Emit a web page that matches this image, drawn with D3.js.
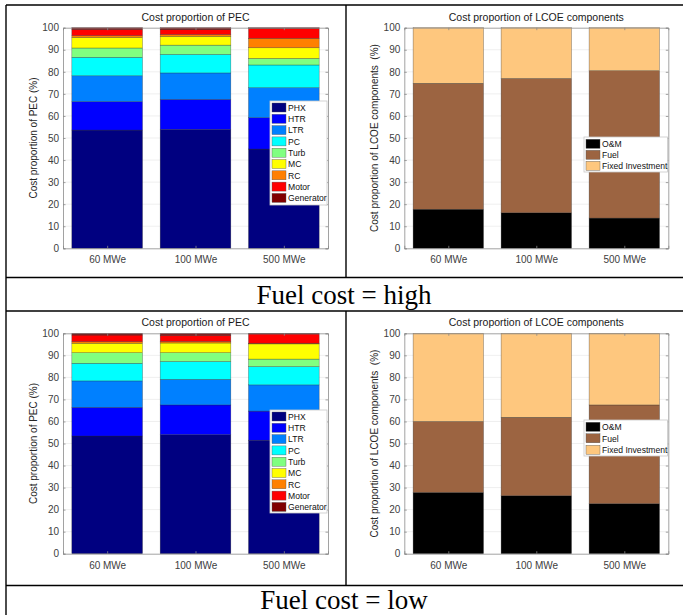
<!DOCTYPE html>
<html>
<head>
<meta charset="utf-8">
<script src="https://cdn.jsdelivr.net/npm/d3@7"></script>
<style>
  body { margin: 0; background: #fff; }
  svg { display: block; }
  .tick text { font-family: "Liberation Sans", Arial, sans-serif; }
</style>
</head>
<body>
<div id="chart"></div>
<script>
// Bar categories (plant size)
const categories = ['60 MWe', '100 MWe', '500 MWe'];

// PEC component names + colours (MATLAB jet-ish)
const pecParts = ['PHX', 'HTR', 'LTR', 'PC', 'Turb', 'MC', 'RC', 'Motor', 'Generator'];
const pecColors = ['#000080', '#0000ff', '#0080ff', '#00ffff', '#80ff80', '#ffff00', '#ff8000', '#ff0000', '#800000'];

// PEC shares (%), one row per category, columns follow pecParts
const pecHigh = [
  [53.6, 12.9, 11.7, 8.4, 4.2, 4.8, 0.8, 2.8, 0.8],
  [53.9, 13.6, 12.0, 8.4, 4.2, 4.0, 0.8, 2.2, 0.9],
  [45.0, 14.2, 13.6, 10.3, 3.0, 4.8, 4.3, 4.5, 0.3]
];
const pecLow = [
  [53.4, 13.0, 12.0, 8.0, 4.8, 4.3, 0.7, 3.0, 0.8],
  [54.0, 13.5, 11.6, 8.1, 4.0, 4.4, 0.7, 2.8, 0.9],
  [51.5, 13.2, 11.9, 8.3, 3.4, 6.9, 0.3, 4.2, 0.3]
];

// LCOE components
const lcoeParts = ['O&M', 'Fuel', 'Fixed Investment'];
const lcoeColors = ['#000000', '#9c6441', '#fec77e'];
const lcoeHigh = [
  [17.7, 57.1, 25.2],
  [16.1, 60.9, 23.0],
  [13.7, 66.8, 19.5]
];
const lcoeLow = [
  [27.8, 32.2, 40.0],
  [26.3, 35.6, 38.1],
  [22.7, 44.8, 32.5]
];

const yTicks = d3.range(0, 101, 10);

const W = 683, H = 615;
const svg = d3.select('#chart').append('svg')
  .attr('width', W)
  .attr('height', H);

/*
  Draw one stacked-bar panel. box = plot area in page coords,
  leg = legend box.
*/
function panel(opt) {
  const {box, title, ylabel, parts, colors, rows, leg} = opt;
  const g = svg.append('g');

  const x = d3.scaleLinear().domain([0.5, 3.5]).range([box.x0, box.x1]);
  const y = d3.scaleLinear().domain([0, 100]).range([box.y0, box.y1]);
  const bw = (x(1.4) - x(0.6));

  // grid
  g.append('g').selectAll('line')
    .data(yTicks.slice(1, -1))
    .enter().append('line')
    .attr('x1', box.x0).attr('x2', box.x1)
    .attr('y1', d => y(d)).attr('y2', d => y(d))
    .attr('stroke', '#ebebeb')
    .attr('stroke-width', 0.8);

  // stack the rows
  const table = rows.map((r, i) => {
    const o = {cat: i + 1};
    parts.forEach((p, j) => o[p] = r[j]);
    return o;
  });
  const series = d3.stack().keys(parts)(table);

  g.append('g').selectAll('g')
    .data(series)
    .enter().append('g')
    .attr('fill', (d, i) => colors[i])
    .selectAll('rect')
    .data(d => d)
    .enter().append('rect')
    .attr('x', d => x(d.data.cat) - bw / 2)
    .attr('width', bw)
    .attr('y', d => y(d[1]))
    .attr('height', d => y(d[0]) - y(d[1]))
    .attr('stroke', '#2a2a2a')
    .attr('stroke-opacity', 0.6)
    .attr('stroke-width', 0.5);

  // axes (inward ticks, MATLAB style)
  const axCol = '#8a8a8a';
  const yAx = g.append('g')
    .attr('transform', `translate(${box.x0},0)`)
    .call(d3.axisLeft(y).tickValues(yTicks).tickSize(-2.5).tickPadding(4));
  const yAxR = g.append('g')
    .attr('transform', `translate(${box.x1},0)`)
    .call(d3.axisRight(y).tickValues(yTicks).tickSize(-2.5).tickFormat(''));
  const xAx = g.append('g')
    .attr('transform', `translate(0,${box.y0})`)
    .call(d3.axisBottom(x).tickValues([1, 2, 3]).tickSize(-2.5).tickPadding(8)
      .tickFormat(d => categories[d - 1]));
  const xAxT = g.append('g')
    .attr('transform', `translate(0,${box.y1})`)
    .call(d3.axisTop(x).tickValues([1, 2, 3]).tickSize(-2.5).tickFormat(''));
  [yAx, yAxR, xAx, xAxT].forEach(a => {
    a.select('.domain').attr('stroke', axCol).attr('stroke-width', 0.8);
    a.selectAll('.tick line').attr('stroke', axCol).attr('stroke-width', 0.8);
    a.selectAll('.tick text').attr('fill', '#404040').attr('font-size', 10);
  });

  // title
  g.append('text')
    .attr('x', (box.x0 + box.x1) / 2)
    .attr('y', box.y1 - 7)
    .attr('text-anchor', 'middle')
    .attr('font-family', '"Liberation Sans", Arial, sans-serif')
    .attr('font-size', 10.5)
    .attr('fill', '#1a1a1a')
    .text(title);

  // y label
  g.append('text')
    .attr('transform', `translate(${box.x0 - 26},${(box.y0 + box.y1) / 2}) rotate(-90)`)
    .attr('text-anchor', 'middle')
    .attr('font-family', '"Liberation Sans", Arial, sans-serif')
    .attr('font-size', 10)
    .attr('fill', '#262626')
    .attr('xml:space', 'preserve')
    .style('white-space', 'pre')
    .text(ylabel);

  // legend
  const lg = g.append('g');
  lg.append('rect')
    .attr('x', leg.x).attr('y', leg.y)
    .attr('width', leg.w).attr('height', leg.h)
    .attr('fill', '#fff')
    .attr('stroke', '#c8c8c8')
    .attr('stroke-width', 0.8);
  const item = lg.selectAll('.item')
    .data(parts)
    .enter().append('g')
    .attr('transform', (d, i) => `translate(${leg.x + 2},${leg.y + leg.top + i * leg.step})`);
  item.append('rect')
    .attr('x', 0).attr('y', -4.5)
    .attr('width', 14).attr('height', 9)
    .attr('fill', (d, i) => colors[i])
    .attr('stroke', '#555')
    .attr('stroke-width', 0.4);
  item.append('text')
    .attr('x', 16).attr('y', 3.3)
    .attr('font-family', '"Liberation Sans", Arial, sans-serif')
    .attr('font-size', 8.6)
    .attr('fill', '#111')
    .text(d => d);
}

const leftX = {x0: 63, x1: 328};
const rightX = {x0: 404.3, x1: 668.3};
const topY = {y0: 248.3, y1: 27.7};
const botY = {y0: 553.7, y1: 333.3};
const pecLabel = 'Cost proportion of PEC (%)';
const lcoeLabel = 'Cost proportion of LCOE components  (%)';

panel({box: {...leftX, ...topY}, title: 'Cost proportion of PEC', ylabel: pecLabel,
  parts: pecParts, colors: pecColors, rows: pecHigh,
  leg: {x: 270, y: 101, w: 57, h: 104, top: 6.5, step: 11.3}});
panel({box: {...rightX, ...topY}, title: 'Cost proportion of LCOE components', ylabel: lcoeLabel,
  parts: lcoeParts, colors: lcoeColors, rows: lcoeHigh,
  leg: {x: 584, y: 137, w: 83.5, h: 35, top: 6.8, step: 11}});
panel({box: {...leftX, ...botY}, title: 'Cost proportion of PEC', ylabel: pecLabel,
  parts: pecParts, colors: pecColors, rows: pecLow,
  leg: {x: 270, y: 410, w: 57, h: 103, top: 6.5, step: 11.3}});
panel({box: {...rightX, ...botY}, title: 'Cost proportion of LCOE components', ylabel: lcoeLabel,
  parts: lcoeParts, colors: lcoeColors, rows: lcoeLow,
  leg: {x: 584, y: 420, w: 83.5, h: 36, top: 6.8, step: 11.5}});

// table frame (the figure sits in a document table)
const frame = svg.append('g')
  .attr('stroke', '#000')
  .attr('stroke-width', 1.4);
const hLines = [5, 277.5, 311, 585.5];
hLines.forEach(yy => frame.append('line')
  .attr('x1', 6).attr('x2', W).attr('y1', yy).attr('y2', yy));
frame.append('line').attr('x1', 6).attr('x2', 6).attr('y1', 5).attr('y2', H);
frame.append('line').attr('x1', 346).attr('x2', 346).attr('y1', 5).attr('y2', 277.5);
frame.append('line').attr('x1', 346).attr('x2', 346).attr('y1', 311).attr('y2', 585.5);

// row captions
const caps = [{t: 'Fuel cost = high', y: 304}, {t: 'Fuel cost = low', y: 609}];
svg.selectAll('.cap')
  .data(caps)
  .enter().append('text')
  .attr('class', 'cap')
  .attr('x', 344)
  .attr('y', d => d.y)
  .attr('text-anchor', 'middle')
  .attr('font-family', '"Liberation Serif", "Times New Roman", serif')
  .attr('font-size', 27)
  .attr('fill', '#000')
  .text(d => d.t);
</script>
</body>
</html>
